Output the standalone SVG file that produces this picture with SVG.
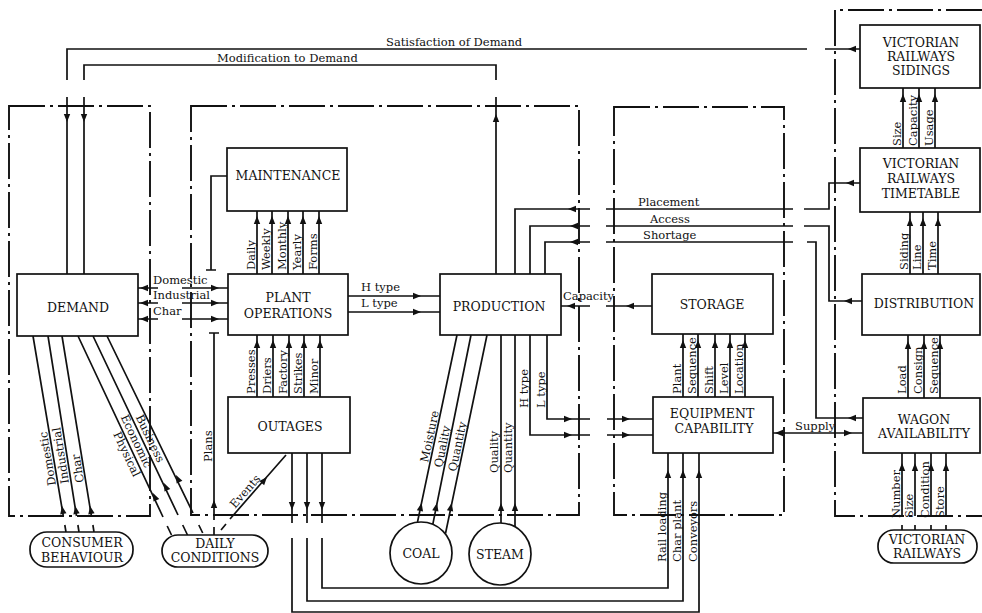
<svg xmlns="http://www.w3.org/2000/svg" width="982" height="613" viewBox="0 0 982 613">
<style>
.ln{stroke:#111;stroke-width:1.7;fill:none}
.bx{fill:#fff;stroke:#111;stroke-width:1.7}
.bd{stroke:#111;stroke-width:1.9;fill:none;stroke-dasharray:36 5 3 5}
.nt{font-family:"DejaVu Serif",serif;font-size:12.5px;text-anchor:middle;fill:#111}
.lb{font-family:"DejaVu Serif",serif;font-size:11.5px;fill:#111}
</style>
<defs>
<path id="ah" d="M0,0 L-8,-3.2 L-8,3.2 Z" fill="#111"/>
</defs>
<rect width="982" height="613" fill="#fff"/>
<g id="boundaries">
<rect class="bd" x="9" y="106" width="141" height="410"/>
<rect class="bd" x="191" y="106" width="388" height="409"/>
<rect class="bd" x="614" y="107" width="170" height="408"/>
<path class="bd" d="M982,10 H835 V516 H982"/>
</g>
<g id="connectors">
<path class="ln" d="M807,49 H67 V80 M67,97 V274 M825,49 H860"/>
<path class="ln" d="M496,80 V65 H84 V80 M84,97 V274 M496,97 V274"/>
<use href="#ah" transform="translate(67,122) rotate(90)"/>
<use href="#ah" transform="translate(84,122) rotate(90)"/>
<use href="#ah" transform="translate(496,114) rotate(-90)"/>
<use href="#ah" transform="translate(848,49) rotate(180)"/>
<path class="ln" d="M138,288 H158 M182,288 H228 M138,303 H158 M182,303 H228 M138,319 H158 M182,319 H228"/>
<use href="#ah" transform="translate(140,288) rotate(180)"/>
<use href="#ah" transform="translate(140,303) rotate(180)"/>
<use href="#ah" transform="translate(140,319) rotate(180)"/>
<use href="#ah" transform="translate(219,288)"/>
<use href="#ah" transform="translate(219,303)"/>
<use href="#ah" transform="translate(219,319)"/>
<path class="ln" d="M227,176 H211 V270 M206,270 H216"/>
<path class="ln" d="M214,520 V333 M209,333 H219 M214,527 V536"/>
<use href="#ah" transform="translate(214,500) rotate(-90)"/>
<path class="ln" d="M257,274 V211 M272,274 V211 M288,274 V211 M303,274 V211 M319,274 V211"/>
<use href="#ah" transform="translate(257,216) rotate(-90)"/>
<use href="#ah" transform="translate(272,216) rotate(-90)"/>
<use href="#ah" transform="translate(288,216) rotate(-90)"/>
<use href="#ah" transform="translate(303,216) rotate(-90)"/>
<use href="#ah" transform="translate(319,216) rotate(-90)"/>
<path class="ln" d="M257,397 V335 M273,397 V335 M289,397 V335 M304,397 V335 M320,397 V335"/>
<use href="#ah" transform="translate(257,340) rotate(-90)"/>
<use href="#ah" transform="translate(273,340) rotate(-90)"/>
<use href="#ah" transform="translate(289,340) rotate(-90)"/>
<use href="#ah" transform="translate(304,340) rotate(-90)"/>
<use href="#ah" transform="translate(320,340) rotate(-90)"/>
<path class="ln" d="M348,296 H440 M348,312 H440"/>
<use href="#ah" transform="translate(421,296)"/>
<use href="#ah" transform="translate(421,312)"/>
<path class="ln" d="M515,274 V209 H590 M606,209 H793 M804,209 H829 V183 H860"/>
<path class="ln" d="M530,274 V226 H590 M606,226 H793 M804,226 H829 V301 H862"/>
<path class="ln" d="M545,274 V242 H590 M606,242 H793 M807,242 H816 V418 H863"/>
<use href="#ah" transform="translate(568,209) rotate(180)"/>
<use href="#ah" transform="translate(570,226) rotate(180)"/>
<use href="#ah" transform="translate(570,242) rotate(180)"/>
<use href="#ah" transform="translate(846,183) rotate(180)"/>
<use href="#ah" transform="translate(844,301) rotate(180)"/>
<use href="#ah" transform="translate(848,418) rotate(180)"/>
<path class="ln" d="M561,306 H590 M606,306 H652"/>
<use href="#ah" transform="translate(567,306) rotate(180)"/>
<use href="#ah" transform="translate(626,306) rotate(180)"/>
<path class="ln" d="M530,335 V435 H590 M607,435 H653 M547,335 V419 H590 M607,419 H653"/>
<use href="#ah" transform="translate(572,435)"/>
<use href="#ah" transform="translate(630,435)"/>
<use href="#ah" transform="translate(572,419)"/>
<use href="#ah" transform="translate(630,419)"/>
<path class="ln" d="M773,433 H863"/>
<use href="#ah" transform="translate(775,433) rotate(180)"/>
<use href="#ah" transform="translate(852,433)"/>
<path class="ln" d="M501,523 V335 M515,527 V335"/>
<use href="#ah" transform="translate(501,503) rotate(-90)"/>
<use href="#ah" transform="translate(515,503) rotate(-90)"/>
<path class="ln" d="M417.5,522 L457,335 M432.8,524.3 L471,335 M445.5,533.5 L487,335"/>
<use href="#ah" transform="translate(421.6,503) rotate(-78)"/>
<use href="#ah" transform="translate(437,503) rotate(-78)"/>
<use href="#ah" transform="translate(451.7,503) rotate(-78)"/>
<path class="ln" d="M292,453 V523 M307,453 V523 M322,453 V523"/>
<use href="#ah" transform="translate(292,510) rotate(90)"/>
<use href="#ah" transform="translate(307,510) rotate(90)"/>
<use href="#ah" transform="translate(322,510) rotate(90)"/>
<path class="ln" d="M292,538 V612 H699 V453 M307,538 V601 H683 V453 M322,538 V588 H668 V453"/>
<use href="#ah" transform="translate(668,470) rotate(-90)"/>
<use href="#ah" transform="translate(683,470) rotate(-90)"/>
<use href="#ah" transform="translate(699,470) rotate(-90)"/>
<path class="ln" d="M230,519 L286,455 M221,530 L226,524"/>
<use href="#ah" transform="translate(267,477) rotate(-48.8)"/>
<path class="ln" d="M33,336 L63.3,516 M64.8,525 L66,532 M48,336 L76.5,516 M77.9,525 L79,532 M62,336 L91.4,516 M92.9,525 L94,532"/>
<use href="#ah" transform="translate(62,506) rotate(-99.5)"/>
<use href="#ah" transform="translate(75.2,506) rotate(-99.5)"/>
<use href="#ah" transform="translate(90.1,506) rotate(-99.5)"/>
<path class="ln" d="M78,336 L163,517 M167.2,526 L171.5,535 M93,336 L178,515 M182.7,525 L187.5,535 M107,336 L193,513 M198.8,525 L202.7,533"/>
<use href="#ah" transform="translate(153,493) rotate(-115)"/>
<use href="#ah" transform="translate(164,483) rotate(-115)"/>
<use href="#ah" transform="translate(176,475) rotate(-116)"/>
<path class="ln" d="M903,148 V88 M919,148 V88 M935,148 V88"/>
<use href="#ah" transform="translate(903,94) rotate(-90)"/>
<use href="#ah" transform="translate(919,94) rotate(-90)"/>
<use href="#ah" transform="translate(935,94) rotate(-90)"/>
<path class="ln" d="M910,274 V212 M923,274 V212 M938,274 V212"/>
<use href="#ah" transform="translate(910,218) rotate(-90)"/>
<use href="#ah" transform="translate(923,218) rotate(-90)"/>
<use href="#ah" transform="translate(938,218) rotate(-90)"/>
<path class="ln" d="M908,398 V335 M924,398 V335 M940,398 V335"/>
<use href="#ah" transform="translate(908,341) rotate(-90)"/>
<use href="#ah" transform="translate(924,341) rotate(-90)"/>
<use href="#ah" transform="translate(940,341) rotate(-90)"/>
<path class="ln" d="M902,516 V453 M915,516 V453 M931,516 V453 M946,516 V453 M902,525 V531 M915,525 V531 M931,525 V531 M946,525 V531"/>
<use href="#ah" transform="translate(902,463) rotate(-90)"/>
<use href="#ah" transform="translate(915,463) rotate(-90)"/>
<use href="#ah" transform="translate(931,463) rotate(-90)"/>
<use href="#ah" transform="translate(946,463) rotate(-90)"/>
<path class="ln" d="M683,397 V334 M698,397 V334 M715,397 V334 M730,397 V334 M745,397 V334"/>
<use href="#ah" transform="translate(683,340) rotate(-90)"/>
<use href="#ah" transform="translate(698,340) rotate(-90)"/>
<use href="#ah" transform="translate(715,340) rotate(-90)"/>
<use href="#ah" transform="translate(730,340) rotate(-90)"/>
<use href="#ah" transform="translate(745,340) rotate(-90)"/>
</g>
<g id="labels">
<text class="lb" x="386" y="45.5">Satisfaction of Demand</text>
<text class="lb" x="217" y="62">Modification to Demand</text>
<text class="lb" x="153" y="284">Domestic</text>
<text class="lb" x="153" y="299">Industrial</text>
<text class="lb" x="153" y="315">Char</text>
<text class="lb" x="361" y="291">H type</text>
<text class="lb" x="361" y="307">L type</text>
<text class="lb" x="638" y="206">Placement</text>
<text class="lb" x="650" y="223">Access</text>
<text class="lb" x="643" y="239">Shortage</text>
<text class="lb" x="563" y="300">Capacity</text>
<text class="lb" x="795" y="430">Supply</text>
<text class="lb" transform="translate(255,270) rotate(-90)">Daily</text>
<text class="lb" transform="translate(270,270) rotate(-90)">Weekly</text>
<text class="lb" transform="translate(286,270) rotate(-90)">Monthly</text>
<text class="lb" transform="translate(301,270) rotate(-90)">Yearly</text>
<text class="lb" transform="translate(317,270) rotate(-90)">Forms</text>
<text class="lb" transform="translate(255,394) rotate(-90)">Presses</text>
<text class="lb" transform="translate(271,394) rotate(-90)">Driers</text>
<text class="lb" transform="translate(287,394) rotate(-90)">Factory</text>
<text class="lb" transform="translate(302,394) rotate(-90)">Strikes</text>
<text class="lb" transform="translate(318,394) rotate(-90)">Minor</text>
<text class="lb" transform="translate(212,462) rotate(-90)">Plans</text>
<text class="lb" transform="translate(235,509) rotate(-48.8)">Events</text>
<text class="lb" transform="translate(56,485) rotate(-99.6)">Domestic</text>
<text class="lb" transform="translate(69,483) rotate(-99)">Industrial</text>
<text class="lb" transform="translate(84,482) rotate(-99.3)">Char</text>
<text class="lb" transform="translate(113,434) rotate(64.8)">Physical</text>
<text class="lb" transform="translate(120.5,417) rotate(64.6)">Economic</text>
<text class="lb" transform="translate(135.4,417) rotate(64)">Business</text>
<text class="lb" transform="translate(428,463) rotate(-78)">Moisture</text>
<text class="lb" transform="translate(442,468) rotate(-78.5)">Quality</text>
<text class="lb" transform="translate(456,472) rotate(-78)">Quantity</text>
<text class="lb" transform="translate(498,473) rotate(-90)">Quality</text>
<text class="lb" transform="translate(512,473) rotate(-90)">Quantity</text>
<text class="lb" transform="translate(528,408) rotate(-90)">H type</text>
<text class="lb" transform="translate(545,408) rotate(-90)">L type</text>
<text class="lb" transform="translate(681,394) rotate(-90)">Plant</text>
<text class="lb" transform="translate(696,394) rotate(-90)">Sequence</text>
<text class="lb" transform="translate(713,394) rotate(-90)">Shift</text>
<text class="lb" transform="translate(728,394) rotate(-90)">Level</text>
<text class="lb" transform="translate(743,394) rotate(-90)">Location</text>
<text class="lb" transform="translate(666,562) rotate(-90)">Rail loading</text>
<text class="lb" transform="translate(681,562) rotate(-90)">Char plant</text>
<text class="lb" transform="translate(697,562) rotate(-90)">Conveyors</text>
<text class="lb" transform="translate(901,146) rotate(-90)">Size</text>
<text class="lb" transform="translate(917,146) rotate(-90)">Capacity</text>
<text class="lb" transform="translate(933,146) rotate(-90)">Usage</text>
<text class="lb" transform="translate(908,270) rotate(-90)">Siding</text>
<text class="lb" transform="translate(921,270) rotate(-90)">Line</text>
<text class="lb" transform="translate(936,270) rotate(-90)">Time</text>
<text class="lb" transform="translate(906,394) rotate(-90)">Load</text>
<text class="lb" transform="translate(922,394) rotate(-90)">Consign</text>
<text class="lb" transform="translate(938,394) rotate(-90)">Sequence</text>
<text class="lb" transform="translate(900,518) rotate(-90)">Number</text>
<text class="lb" transform="translate(913,518) rotate(-90)">Size</text>
<text class="lb" transform="translate(929,518) rotate(-90)">Condition</text>
<text class="lb" transform="translate(944,518) rotate(-90)">Store</text>
</g>
<g id="demand"><rect class="bx" x="17" y="274" width="121" height="62"/><text class="nt" x="78" y="312">DEMAND</text></g>
<g id="maintenance"><rect class="bx" x="227" y="148" width="120" height="63"/><text class="nt" x="288" y="180">MAINTENANCE</text></g>
<g id="plant-operations"><rect class="bx" x="228" y="274" width="120" height="61"/><text class="nt" x="288" y="302">PLANT</text><text class="nt" x="288" y="318">OPERATIONS</text></g>
<g id="outages"><rect class="bx" x="228" y="397" width="122" height="56"/><text class="nt" x="290" y="431">OUTAGES</text></g>
<g id="production"><rect class="bx" x="440" y="274" width="121" height="61"/><text class="nt" x="499" y="311">PRODUCTION</text></g>
<g id="storage"><rect class="bx" x="652" y="274" width="121" height="60"/><text class="nt" x="712" y="309">STORAGE</text></g>
<g id="equipment-capability"><rect class="bx" x="653" y="397" width="120" height="56"/><text class="nt" x="712" y="418">EQUIPMENT</text><text class="nt" x="714" y="433">CAPABILITY</text></g>
<g id="vr-sidings"><rect class="bx" x="860" y="25" width="120" height="63"/><text class="nt" x="921" y="47">VICTORIAN</text><text class="nt" x="921" y="61">RAILWAYS</text><text class="nt" x="921" y="75">SIDINGS</text></g>
<g id="vr-timetable"><rect class="bx" x="860" y="148" width="120" height="64"/><text class="nt" x="921" y="168">VICTORIAN</text><text class="nt" x="921" y="183">RAILWAYS</text><text class="nt" x="921" y="198">TIMETABLE</text></g>
<g id="distribution"><rect class="bx" x="862" y="274" width="118" height="61"/><text class="nt" x="924" y="308">DISTRIBUTION</text></g>
<g id="wagon-availability"><rect class="bx" x="863" y="398" width="117" height="55"/><text class="nt" x="924" y="424">WAGON</text><text class="nt" x="924" y="438">AVAILABILITY</text></g>
<g id="consumer-behaviour"><rect class="bx" x="30" y="532" width="103" height="35" rx="17"/><text class="nt" x="82" y="547">CONSUMER</text><text class="nt" x="82" y="562">BEHAVIOUR</text></g>
<g id="daily-conditions"><rect class="bx" x="162" y="535" width="106" height="32" rx="16"/><text class="nt" x="215" y="548">DAILY</text><text class="nt" x="215" y="562">CONDITIONS</text></g>
<g id="coal"><circle class="bx" cx="421" cy="553" r="31"/><text class="nt" x="421" y="558">COAL</text></g>
<g id="steam"><circle class="bx" cx="500" cy="554" r="31"/><text class="nt" x="500" y="559">STEAM</text></g>
<g id="victorian-railways"><rect class="bx" x="878" y="530" width="99" height="33" rx="16"/><text class="nt" x="927" y="544">VICTORIAN</text><text class="nt" x="927" y="558">RAILWAYS</text></g>
</svg>
